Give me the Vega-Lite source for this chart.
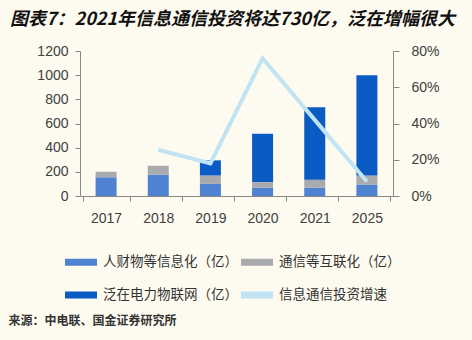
{
  "$schema": "https://vega.github.io/schema/vega-lite/v6.json",
  "width": 313,
  "height": 145,
  "autosize": {"type": "none"},
  "padding": {"left": 80, "top": 51, "right": 79, "bottom": 144},
  "background": "#fdfbf0",
  "config": {"view": {"stroke": null}, "font": "Noto Sans CJK SC"},
  "title": {
    "text": "图表7：2021年信息通信投资将达730亿，泛在增幅很大",
    "anchor": "start",
    "frame": "group",
    "dx": -70,
    "offset": 15,
    "fontSize": 18,
    "fontWeight": "bold",
    "fontStyle": "italic",
    "color": "#111111",
    "font": "Noto Sans CJK SC"
  },
  "datasets": {
    "bars": [
      {"year": "2017", "series": "人财物等信息化（亿）", "value": 155},
      {"year": "2017", "series": "通信等互联化（亿）", "value": 45},
      {"year": "2018", "series": "人财物等信息化（亿）", "value": 175},
      {"year": "2018", "series": "通信等互联化（亿）", "value": 75},
      {"year": "2019", "series": "人财物等信息化（亿）", "value": 100},
      {"year": "2019", "series": "通信等互联化（亿）", "value": 70},
      {"year": "2019", "series": "泛在电力物联网（亿）", "value": 125},
      {"year": "2020", "series": "人财物等信息化（亿）", "value": 70},
      {"year": "2020", "series": "通信等互联化（亿）", "value": 45},
      {"year": "2020", "series": "泛在电力物联网（亿）", "value": 400},
      {"year": "2021", "series": "人财物等信息化（亿）", "value": 70},
      {"year": "2021", "series": "通信等互联化（亿）", "value": 65},
      {"year": "2021", "series": "泛在电力物联网（亿）", "value": 600},
      {"year": "2025", "series": "人财物等信息化（亿）", "value": 95},
      {"year": "2025", "series": "通信等互联化（亿）", "value": 75},
      {"year": "2025", "series": "泛在电力物联网（亿）", "value": 830}
    ],
    "seriesOrder": [
      {"series": "人财物等信息化（亿）", "rank": 1},
      {"series": "通信等互联化（亿）", "rank": 2},
      {"series": "泛在电力物联网（亿）", "rank": 3}
    ],
    "growth": [
      {"year": "2018", "growth": 0.255},
      {"year": "2019", "growth": 0.18},
      {"year": "2020", "growth": 0.76},
      {"year": "2021", "growth": 0.42},
      {"year": "2025", "growth": 0.08}
    ]
  },
  "layer": [
    {
      "data": {"name": "bars"},
      "transform": [
        {"lookup": "series", "from": {"data": {"name": "seriesOrder"}, "key": "series", "fields": ["rank"]}}
      ],
      "mark": {"type": "bar", "size": 21},
      "encoding": {
        "x": {
          "field": "year",
          "type": "nominal",
          "sort": ["2017", "2018", "2019", "2020", "2021", "2025"],
          "scale": {"domain": ["2017", "2018", "2019", "2020", "2021", "2025"]},
          "axis": {
            "title": "来源：中电联、国金证券研究所",
            "titleFont": "Noto Sans CJK SC",
            "titleFontSize": 12,
            "titleFontWeight": "bold",
            "titleColor": "#333333",
            "titleAlign": "left",
            "titleAnchor": "start",
            "titleBaseline": "middle",
            "titleX": -72,
            "titleY": 124,
            "labelAngle": 0,
            "labelFont": "Liberation Sans",
            "labelFontSize": 14,
            "labelColor": "#404040",
            "labelPadding": 10,
            "tickBand": "extent",
            "tickSize": 5,
            "tickColor": "#888888",
            "domainColor": "#888888",
            "grid": false
          }
        },
        "y": {
          "field": "value",
          "type": "quantitative",
          "stack": "zero",
          "scale": {"domain": [0, 1200]},
          "axis": {
            "title": null,
            "values": [0, 200, 400, 600, 800, 1000, 1200],
            "format": "d",
            "labelFont": "Liberation Sans",
            "labelFontSize": 14,
            "labelColor": "#404040",
            "labelPadding": 7,
            "tickSize": 5,
            "tickColor": "#888888",
            "domainColor": "#888888",
            "grid": false
          }
        },
        "order": {"field": "rank", "type": "quantitative", "sort": "ascending"},
        "color": {
          "field": "series",
          "type": "nominal",
          "sort": ["人财物等信息化（亿）", "通信等互联化（亿）", "泛在电力物联网（亿）", "信息通信投资增速"],
          "scale": {
            "domain": ["人财物等信息化（亿）", "通信等互联化（亿）", "泛在电力物联网（亿）", "信息通信投资增速"],
            "range": ["#4f82d1", "#a9aaad", "#0a5bc4", "#c0e4f4"]
          },
          "legend": {
            "title": null,
            "orient": "none",
            "legendX": -15,
            "legendY": 195,
            "direction": "horizontal",
            "columns": 2,
            "columnPadding": 3,
            "rowPadding": 10,
            "symbolType": "M-1,-0.22H1V0.22H-1Z",
            "symbolSize": 1024,
            "symbolStrokeWidth": 0,
            "labelFont": "Noto Sans CJK SC",
            "labelFontSize": 13.5,
            "labelColor": "#333333",
            "labelLimit": 220,
            "labelOffset": 6,
            "encode": {
              "symbols": {
                "update": {
                  "fill": {"scale": "color", "field": "value"},
                  "stroke": {"value": "transparent"},
                  "opacity": {"value": 1}
                }
              }
            }
          }
        }
      }
    },
    {
      "data": {"name": "growth"},
      "mark": {"type": "line", "strokeWidth": 4},
      "encoding": {
        "x": {
          "field": "year",
          "type": "nominal",
          "sort": ["2017", "2018", "2019", "2020", "2021", "2025"]
        },
        "y": {
          "field": "growth",
          "type": "quantitative",
          "scale": {"domain": [0, 0.8]},
          "axis": {
            "orient": "right",
            "title": null,
            "values": [0, 0.2, 0.4, 0.6, 0.8],
            "format": ".0%",
            "labelFont": "Liberation Sans",
            "labelFontSize": 14,
            "labelColor": "#404040",
            "labelPadding": 12,
            "tickSize": 6,
            "tickColor": "#888888",
            "domainColor": "#888888",
            "grid": false
          }
        },
        "color": {"datum": "信息通信投资增速"}
      }
    }
  ],
  "resolve": {"scale": {"y": "independent"}}
}
